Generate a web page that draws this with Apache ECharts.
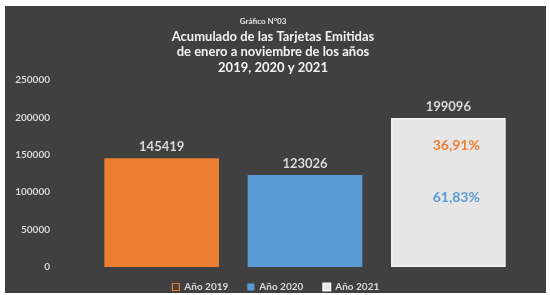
<!DOCTYPE html>
<html>
<head>
<meta charset="utf-8">
<script src="https://cdn.jsdelivr.net/npm/echarts@6/dist/echarts.min.js"></script>
<style>
  html, body { margin: 0; padding: 0; background: #ffffff; }
  #chart { position: absolute; left: 5px; top: 6px; width: 541px; height: 287px; background: #404040; }
</style>
</head>
<body>
<div id="chart"></div>
<script>
  // datos del gráfico
  const categorias = ['Año 2019', 'Año 2020', 'Año 2021']
  const valores = [145419, 123026, 199096]
  const colores = ['#ED7D31', '#5B9BD5', '#E6E6E6']
  const porcentajes = ['36,91%', '61,83%']
  const ticksY = [0, 50000, 100000, 150000, 200000, 250000]

  const chart = echarts.init(document.getElementById('chart'))
  const fuente = 'Lato'

  // una serie por año, apiladas para que cada barra quede centrada
  const series = categorias.map((nombre, i) => ({
    name: nombre,
    type: 'bar',
    stack: 'total',
    barWidth: '80%',
    data: categorias.map((c, j) => (j === i ? valores[i] : '-')),
    itemStyle: {
      color: colores[i],
      borderColor: i === 2 ? '#f4f4f4' : colores[i],
      borderWidth: i === 2 ? 1.5 : 0
    },
    label: {
      show: true,
      position: 'top',
      distance: 5,
      color: '#d9d9d9',
      fontFamily: fuente,
      fontWeight: 'bold',
      fontSize: 13
    }
  }))

  // porcentajes dentro de la barra 2021
  series[2].markPoint = {
    symbol: 'rect',
    symbolSize: 1,
    itemStyle: { color: 'transparent' },
    data: [
      { coord: [2, 163000], value: porcentajes[0],
        label: { color: colores[0], offset: [8, 0] } },
      { coord: [2, 92500], value: porcentajes[1],
        label: { color: colores[1], offset: [8, 0] } }
    ],
    label: {
      show: true,
      position: 'inside',
      fontFamily: fuente,
      fontWeight: 'bold',
      fontSize: 14,
      formatter: p => p.value
    }
  }

  const option = {
    animation: false,
    title: [
      {
        text: 'Gráfico N°03',
        left: 253,
        top: 6,
        textAlign: 'center',
        textStyle: { color: '#e6e6e6', fontFamily: fuente, fontSize: 8, fontWeight: 'bold' }
      },
      {
        text: 'Acumulado de las Tarjetas Emitidas\nde enero a noviembre de los años\n2019, 2020 y 2021',
        left: 263,
        top: 18,
        textAlign: 'center',
        textStyle: { color: '#f2f2f2', fontFamily: fuente, fontSize: 13, fontWeight: 'bold', lineHeight: 15.5 }
      }
    ],
    legend: {
      data: [
        { name: categorias[0], itemStyle: { color: 'transparent', borderColor: colores[0], borderWidth: 1.2 } },
        { name: categorias[1] },
        { name: categorias[2] }
      ],
      top: 271,
      left: 'center',
      icon: 'rect',
      itemWidth: 7,
      itemHeight: 7,
      itemGap: 19,
      textStyle: { color: '#d9d9d9', fontFamily: fuente, fontWeight: 'bold', fontSize: 10 }
    },
    grid: { left: 85, right: 26, top: 74, bottom: 26 },
    xAxis: {
      type: 'category',
      data: categorias,
      axisLine: { show: false },
      axisTick: { show: false },
      axisLabel: { show: false }
    },
    yAxis: {
      type: 'value',
      min: ticksY[0],
      max: ticksY[ticksY.length - 1],
      interval: 50000,
      splitLine: { show: false },
      axisLine: { show: false },
      axisTick: { show: false },
      axisLabel: {
        margin: 40,
        color: '#d9d9d9',
        fontFamily: fuente,
        fontWeight: 'bold',
        fontSize: 10,
        formatter: v => String(v)
      }
    },
    series: series
  }

  chart.setOption(option)
</script>
</body>
</html>
